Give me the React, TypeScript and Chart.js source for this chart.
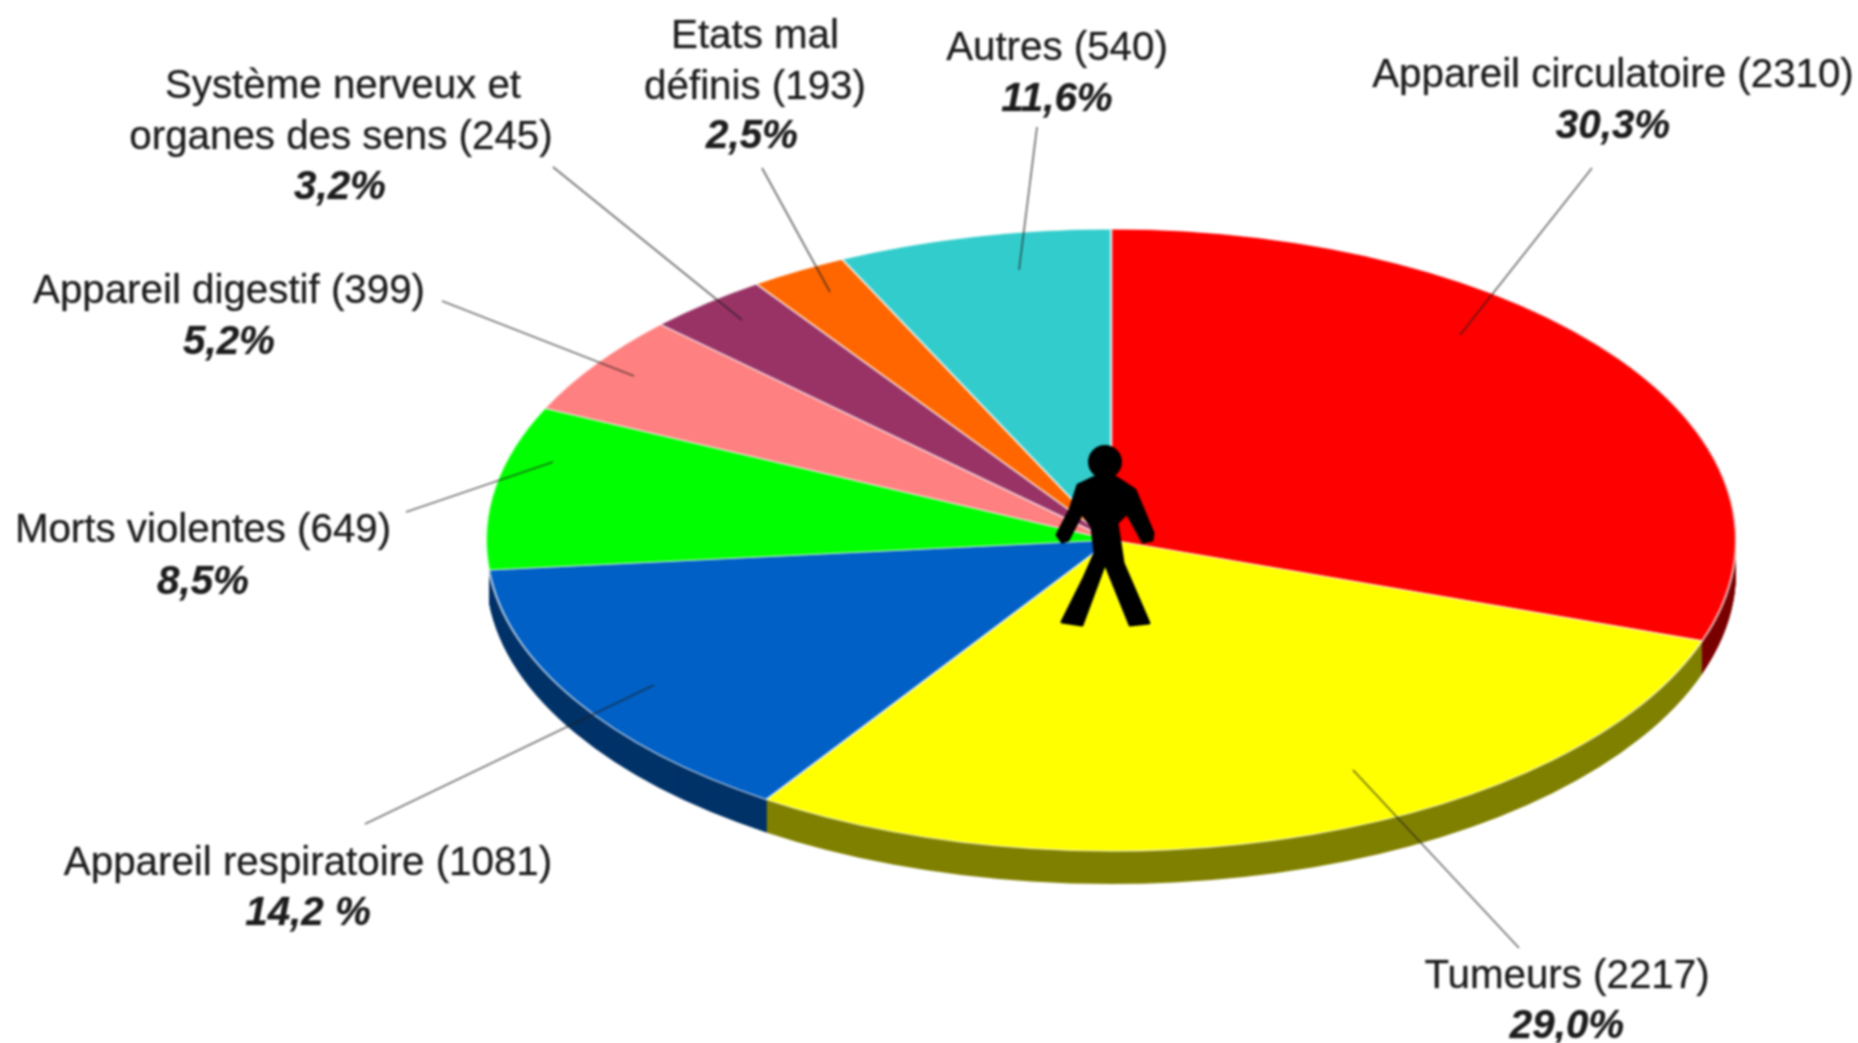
import React, { useEffect, useRef } from "react";
import { Chart, registerables } from "chart.js";

Chart.register(...registerables);

const categories = [
  "Appareil circulatoire",
  "Tumeurs",
  "Appareil respiratoire",
  "Morts violentes",
  "Appareil digestif",
  "Système nerveux et organes des sens",
  "Etats mal définis",
  "Autres",
];
const values = [2310, 2217, 1081, 649, 399, 245, 193, 540];
const topColors = ["#ff0000", "#ffff00", "#0060c6", "#00ff00", "#ff8080", "#993366", "#ff6600", "#33cccc"];
const sideColors = ["#7a0000", "#808000", "#003268", "#ffffff", "#804040", "#4c1a33", "#803300", "#1a6666"];

// [text, x, y, bold-italic]
const textRows: [string, number, number, boolean][] = [
  ["Appareil circulatoire (2310)", 1613, 76, false],
  ["30,3%", 1613, 127, true],
  ["Tumeurs (2217)", 1567, 977, false],
  ["29,0%", 1567, 1027, true],
  ["Appareil respiratoire (1081)", 308, 864, false],
  ["14,2 %", 308, 914, true],
  ["Morts violentes (649)", 203, 531, false],
  ["8,5%", 203, 583, true],
  ["Appareil digestif (399)", 229, 292, false],
  ["5,2%", 229, 343, true],
  ["Système nerveux et", 343, 87, false],
  ["organes des sens (245)", 341, 138, false],
  ["3,2%", 340, 188, true],
  ["Etats mal", 755, 37, false],
  ["définis (193)", 755, 88, false],
  ["2,5%", 752, 137, true],
  ["Autres (540)", 1057, 49, false],
  ["11,6%", 1057, 100, true],
];

const leaderLines: [number, number, number, number][] = [
  [1592, 168, 1460, 335],
  [1519, 948, 1353, 770],
  [365, 824, 654, 685],
  [406, 512, 553, 462],
  [442, 301, 634, 376],
  [553, 167, 742, 320],
  [762, 168, 830, 292],
  [1037, 127, 1019, 270],
];

// Standing figure outline, full-image pixels
const figure: [number, number][] = [
  [1095, 477], [1078, 485], [1070, 510], [1057, 535], [1062, 542], [1068, 540], [1082, 513],
  [1092, 527], [1095, 553], [1083, 580], [1062, 622], [1082, 625], [1105, 563], [1130, 625],
  [1149, 623], [1123, 563], [1117, 523], [1127, 513], [1143, 542], [1152, 540], [1153, 533],
  [1135, 490], [1123, 482], [1115, 477],
];

const CX = 1111;
const CY = 540;
const RX = 625;
const RY = 311;
const DEPTH = 33;

const pie3d = {
  id: "pie3d",
  beforeDatasetsDraw(chart: any) {
    const ctx = chart.ctx;
    const arcs = chart.getDatasetMeta(0).data;
    const a0 = arcs[0];
    const sx = RX / a0.outerRadius;
    const sy = RY / a0.outerRadius;
    for (let dy = DEPTH; dy >= 1; dy--) {
      ctx.save();
      ctx.translate(CX, CY + dy);
      ctx.scale(sx, sy);
      ctx.translate(-a0.x, -a0.y);
      arcs.forEach((arc: any, i: number) => {
        const saved = arc.options;
        arc.options = {
          backgroundColor: sideColors[i],
          borderColor: sideColors[i],
          borderWidth: 0,
          borderAlign: "center",
          borderRadius: 0,
          spacing: 0,
          offset: 0,
          circular: true,
        };
        arc.draw(ctx);
        arc.options = saved;
      });
      ctx.restore();
    }
    ctx.save();
    ctx.translate(CX, CY);
    ctx.scale(sx, sy);
    ctx.translate(-a0.x, -a0.y);
  },
  afterDatasetsDraw(chart: any) {
    const ctx = chart.ctx;
    ctx.restore();

    ctx.save();
    ctx.strokeStyle = "rgba(30,30,30,0.62)";
    ctx.lineWidth = 1.8;
    leaderLines.forEach(([x1, y1, x2, y2]) => {
      ctx.beginPath();
      ctx.moveTo(x1, y1);
      ctx.lineTo(x2, y2);
      ctx.stroke();
    });

    ctx.fillStyle = "#000";
    ctx.strokeStyle = "#000";
    ctx.lineWidth = 3;
    ctx.lineJoin = "round";
    ctx.beginPath();
    figure.forEach(([x, y], i) => (i ? ctx.lineTo(x, y) : ctx.moveTo(x, y)));
    ctx.closePath();
    ctx.fill();
    ctx.stroke();
    ctx.beginPath();
    ctx.ellipse(1105, 462, 17, 17, 0, 0, Math.PI * 2);
    ctx.fill();

    ctx.fillStyle = "#1c1c1c";
    ctx.strokeStyle = "rgba(28,28,28,0.5)";
    ctx.lineWidth = 0.6;
    ctx.textAlign = "center";
    ctx.textBaseline = "middle";
    textRows.forEach(([t, x, y, strong]) => {
      ctx.font = (strong ? "italic bold " : "") + '40.3px "Liberation Sans", Arial, sans-serif';
      ctx.fillText(t, x, y);
      ctx.strokeText(t, x, y);
    });
    ctx.restore();
  },
};

export default function App() {
  const ref = useRef<HTMLCanvasElement>(null);
  useEffect(() => {
    const chart = new Chart(ref.current as HTMLCanvasElement, {
      type: "pie",
      data: {
        labels: categories,
        datasets: [
          {
            data: values,
            backgroundColor: topColors,
            borderColor: "rgba(255,255,255,0.65)",
            borderWidth: 2,
            clip: false,
          } as any,
        ],
      },
      options: {
        responsive: false,
        animation: false,
        layout: { padding: 0 },
        plugins: { legend: { display: false }, tooltip: { enabled: false } },
      },
      plugins: [pie3d],
    });
    return () => chart.destroy();
  }, []);
  return (
    <canvas
      ref={ref}
      width={1858}
      height={1043}
      style={{ position: "absolute", left: 0, top: 0, width: 1858, height: 1043, filter: "blur(1px)" }}
    />
  );
}
